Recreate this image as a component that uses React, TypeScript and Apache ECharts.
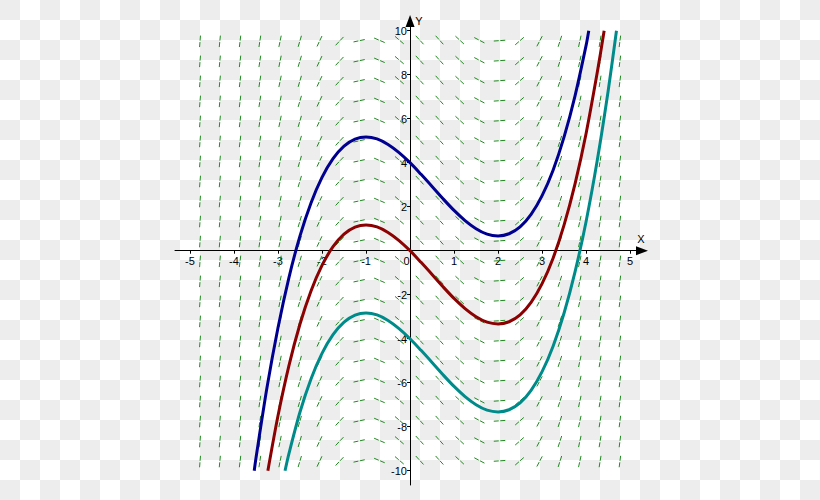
import React, { useEffect, useRef } from "react";
import * as echarts from "echarts";

// Slope field grid (column x positions, row y positions) and slope per column
const fieldX = [-4.77, -4.32, -3.86, -3.41, -2.95, -2.5, -2.05, -1.59, -1.14, -0.68, -0.23, 0.23, 0.68, 1.14, 1.59, 2.05, 2.5, 2.95, 3.41, 3.86, 4.32, 4.77];
const fieldY = [9.55, 8.64, 7.73, 6.82, 5.91, 5.0, 4.09, 3.18, 2.27, 1.36, 0.45, -0.45, -1.36, -2.27, -3.18, -4.09, -5.0, -5.91, -6.82, -7.73, -8.64, -9.55];
const fieldSlope = [25.55, 20.96, 16.79, 13.03, 9.69, 6.75, 4.23, 2.12, 0.43, -0.85, -1.72, -2.18, -2.22, -1.85, -1.06, 0.14, 1.75, 3.78, 6.21, 9.07, 12.33, 16.01];

// Solution curves [x, y]
const blueCurve = [
  [-3.54, -10], [-3.5, -9.42], [-3.25, -6.22], [-3.0, -3.5], [-2.75, -1.21], [-2.5, 0.67], [-2.25, 2.17],
  [-2.0, 3.33], [-1.75, 4.18], [-1.5, 4.75], [-1.25, 5.07], [-1.0, 5.17], [-0.75, 5.08], [-0.5, 4.83],
  [-0.25, 4.46], [0, 4], [0.25, 3.47], [0.5, 2.92], [0.75, 2.36], [1.0, 1.83], [1.25, 1.37], [1.5, 1.0],
  [1.75, 0.75], [2.0, 0.67], [2.25, 0.77], [2.5, 1.08], [2.75, 1.65], [3.0, 2.5], [3.25, 3.66], [3.5, 5.17],
  [3.75, 7.05], [4.0, 9.33], [4.06, 10],
];
const redCurve = [
  [-3.23, -10], [-3.0, -7.5], [-2.75, -5.21], [-2.5, -3.33], [-2.25, -1.83], [-2.0, -0.67], [-1.75, 0.18],
  [-1.5, 0.75], [-1.25, 1.07], [-1.0, 1.17], [-0.75, 1.08], [-0.5, 0.83], [-0.25, 0.46], [0, 0],
  [0.25, -0.53], [0.5, -1.08], [0.75, -1.64], [1.0, -2.17], [1.25, -2.63], [1.5, -3.0], [1.75, -3.25],
  [2.0, -3.33], [2.25, -3.23], [2.5, -2.92], [2.75, -2.35], [3.0, -1.5], [3.25, -0.34], [3.5, 1.17],
  [3.75, 3.05], [4.0, 5.33], [4.25, 8.06], [4.41, 10],
];
const tealCurve = [
  [-2.84, -10], [-2.75, -9.21], [-2.5, -7.33], [-2.25, -5.83], [-2.0, -4.67], [-1.75, -3.82], [-1.5, -3.25],
  [-1.25, -2.93], [-1.0, -2.83], [-0.75, -2.92], [-0.5, -3.17], [-0.25, -3.54], [0, -4], [0.25, -4.53],
  [0.5, -5.08], [0.75, -5.64], [1.0, -6.17], [1.25, -6.63], [1.5, -7.0], [1.75, -7.25], [2.0, -7.33],
  [2.25, -7.23], [2.5, -6.92], [2.75, -6.35], [3.0, -5.5], [3.25, -4.34], [3.5, -2.83], [3.75, -0.95],
  [4.0, 1.33], [4.25, 4.06], [4.5, 7.25], [4.69, 10],
];

const xTicks = [-5, -4, -3, -2, -1, 0, 1, 2, 3, 4, 5];
const yTicks = [-10, -8, -6, -4, -2, 2, 4, 6, 8, 10];

const FONT = "Liberation Sans, Arial, sans-serif";

export default function App() {
  const ref = useRef<HTMLDivElement>(null);

  useEffect(() => {
    document.body.style.margin = "0";
    if (!ref.current) return;
    const chart = echarts.init(ref.current, undefined, { renderer: "svg" });

    const fieldData: number[][] = [];
    fieldX.forEach((x, i) => {
      fieldY.forEach((y) => {
        fieldData.push([x, y, fieldSlope[i]]);
      });
    });

    const XMIN = -5.34, XMAX = 5.27, YMIN = -10.65, YMAX = 10.44;

    const labelStyle = { color: "#000", fontSize: 11, fontFamily: FONT };

    chart.setOption({
      animation: false,
      backgroundColor: "transparent",
      grid: { left: 175, top: 21, width: 467, height: 464, containLabel: false },
      xAxis: {
        type: "value",
        min: XMIN,
        max: XMAX,
        splitLine: { show: false },
        axisLine: {
          show: true,
          onZero: true,
          symbol: ["none", "triangle"],
          symbolSize: [9, 12],
          lineStyle: { color: "#000", width: 1 },
        },
        axisTick: { show: true, length: 3, inside: false, customValues: xTicks, lineStyle: { color: "#000" } },
        axisLabel: {
          show: true,
          margin: -230,
          customValues: xTicks,
          ...labelStyle,
          formatter: (v: number) => (v === 0 ? "{z|0}" : String(v)),
          rich: { z: { ...labelStyle, padding: [0, 7, 0, 0] } },
        },
      },
      yAxis: {
        type: "value",
        min: YMIN,
        max: YMAX,
        splitLine: { show: false },
        axisLine: {
          show: true,
          onZero: true,
          symbol: ["none", "triangle"],
          symbolSize: [9, 12],
          lineStyle: { color: "#000", width: 1 },
        },
        axisTick: { show: true, length: 3, inside: false, customValues: yTicks, lineStyle: { color: "#000" } },
        axisLabel: { show: true, margin: -232, customValues: yTicks, ...labelStyle },
      },
      graphic: [
        { type: "text", style: { text: "X", x: 641, y: 239, align: "center", verticalAlign: "middle", font: `11px ${FONT}`, fill: "#000" } },
        { type: "text", style: { text: "Y", x: 419, y: 21, align: "center", verticalAlign: "middle", font: `11px ${FONT}`, fill: "#000" } },
      ],
      series: [
        {
          type: "custom",
          coordinateSystem: "cartesian2d",
          encode: { x: 0, y: 1 },
          silent: true,
          data: fieldData,
          renderItem: (params: any, api: any) => {
            const x = api.value(0), y = api.value(1), s = api.value(2);
            const c = api.coord([x, y]);
            const c2 = api.coord([x + 0.1, y + 0.1 * s]);
            let dx = c2[0] - c[0], dy = c2[1] - c[1];
            const n = Math.sqrt(dx * dx + dy * dy) || 1;
            dx /= n; dy /= n;
            const h = 6.5;
            return {
              type: "line",
              shape: { x1: c[0] - dx * h, y1: c[1] - dy * h, x2: c[0] + dx * h, y2: c[1] + dy * h },
              style: { stroke: "#1f8a1f", lineWidth: 1, lineDash: [5, 1.5] },
            };
          },
        },
        { type: "line", data: blueCurve, symbol: "none", smooth: 0.3, lineStyle: { color: "#000090", width: 3 } },
        { type: "line", data: redCurve, symbol: "none", smooth: 0.3, lineStyle: { color: "#8b0000", width: 3 } },
        { type: "line", data: tealCurve, symbol: "none", smooth: 0.3, lineStyle: { color: "#008b8b", width: 3 } },
      ],
    });

    return () => chart.dispose();
  }, []);

  return (
    <div
      ref={ref}
      style={{
        width: 820,
        height: 500,
        backgroundColor: "#fff",
        backgroundImage: "conic-gradient(#fff 0 25%, #ededed 0 50%, #fff 0 75%, #ededed 0)",
        backgroundSize: "40px 40px",
      }}
    />
  );
}
